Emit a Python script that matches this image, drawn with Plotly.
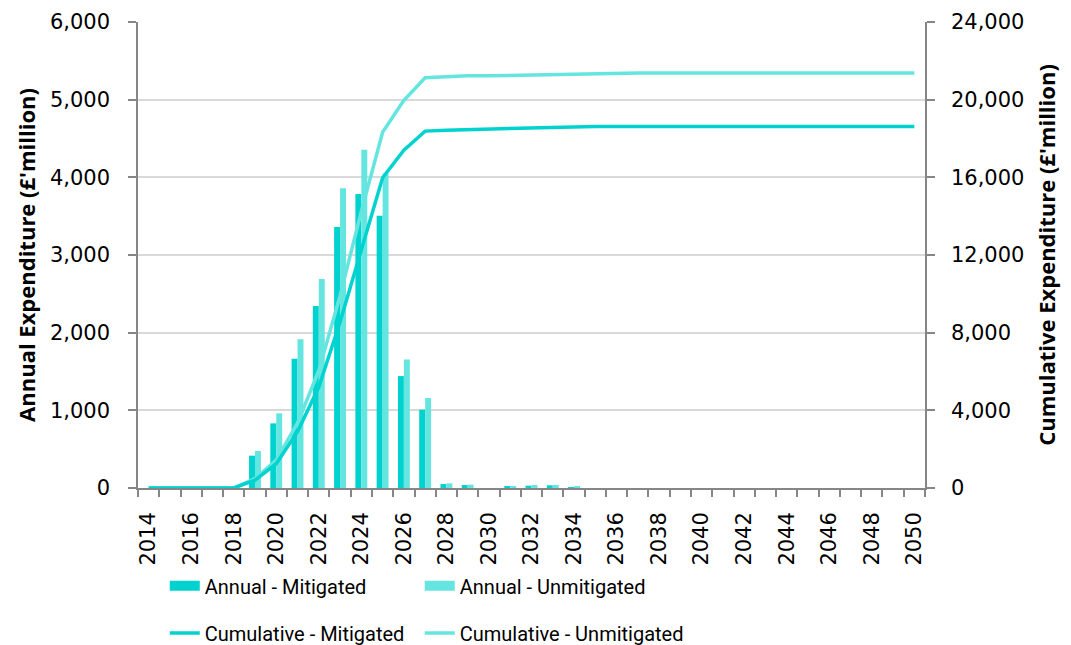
import plotly.graph_objects as go

# Annual and cumulative expenditure, £ million
years = list(range(2014, 2051))

annual_mitigated = [0, 0, 0, 0, 0, 416, 832, 1664, 2342, 3359, 3784, 3505, 1441, 1008,
                    51, 39, 0, 15, 30, 35, 12] + [0] * 16
annual_unmitigated = [0, 0, 0, 0, 0, 476, 961, 1914, 2690, 3861, 4354, 4050, 1656, 1158,
                      60, 43, 0, 20, 39, 39, 20] + [0] * 16

cumulative_mitigated = [0, 0, 0, 0, 0, 400, 1250, 2900, 5200, 8550, 12300, 15980, 17400, 18380,
                        18430, 18460, 18460, 18480, 18520, 18560, 18600] + [18620] * 16
cumulative_unmitigated = [0, 0, 0, 0, 0, 480, 1440, 3350, 6040, 9900, 14250, 18320, 19970, 21130,
                          21190, 21230, 21230, 21250, 21290, 21330, 21350] + [21370] * 16

x_tick_labels = [str(y) for y in range(2014, 2051, 2)]

DARK = "#00D3CF"
LIGHT = "#64E5E0"
AXIS_GREY = "#868686"
GRID_GREY = "#D9D9D9"

fig = go.Figure()

# Annual bars (left axis)
fig.add_trace(go.Bar(x=years, y=annual_mitigated, marker_color=DARK, marker_line_width=0,
                     name="Annual - Mitigated", showlegend=False))
fig.add_trace(go.Bar(x=years, y=annual_unmitigated, marker_color=LIGHT, marker_line_width=0,
                     name="Annual - Unmitigated", showlegend=False))

# Cumulative lines (right axis)
fig.add_trace(go.Scatter(x=years, y=cumulative_unmitigated, yaxis="y2", mode="lines",
                         line=dict(color=LIGHT, width=3.5), name="Cumulative - Unmitigated",
                         showlegend=False))
fig.add_trace(go.Scatter(x=years, y=cumulative_mitigated, yaxis="y2", mode="lines",
                         line=dict(color=DARK, width=3.5), name="Cumulative - Mitigated",
                         showlegend=False))

# Legend entries in a 2x2 grid: wide swatches for the bars, thin lines for the cumulative series
legend_items = [
    ("Annual - Mitigated", DARK, 10, "legend", 0.034, -0.210),
    ("Annual - Unmitigated", LIGHT, 10, "legend2", 0.358, -0.210),
    ("Cumulative - Mitigated", DARK, 3.5, "legend3", 0.034, -0.311),
    ("Cumulative - Unmitigated", LIGHT, 3.5, "legend4", 0.358, -0.311),
]

legend_font = dict(family="Roboto", size=20, color="#000000")
legend_layouts = {}
for label, color, width, leg, lx, ly in legend_items:
    fig.add_trace(go.Scatter(x=[None], y=[None], mode="lines", name=label,
                             line=dict(color=color, width=width), legend=leg,
                             hoverinfo="skip"))
    legend_layouts[leg] = dict(orientation="h", x=lx, xanchor="left", y=ly, yanchor="middle",
                               font=legend_font, bgcolor="rgba(0,0,0,0)", itemclick=False)

tick_font = dict(family="DejaVu Sans", size=21, color="#000000")
title_font = dict(family="Open Sans", size=22, color="#000000", weight="bold")

fig.update_layout(
    width=1071, height=645,
    margin=dict(l=138, r=146, t=22, b=157, autoexpand=False),
    paper_bgcolor="white", plot_bgcolor="white",
    barmode="group", bargap=0.44, bargroupgap=0,
    xaxis=dict(
        range=[2013.5, 2050.5], tickmode="array", tickvals=list(range(2014, 2051, 2)),
        ticktext=x_tick_labels, tickangle=-90, ticks="", showgrid=False,
        showline=True, linecolor=AXIS_GREY, linewidth=1.5, tickfont=tick_font,
        ticklabelstandoff=14,
        minor=dict(tickmode="linear", tick0=2013.5, dtick=1, ticks="outside",
                   ticklen=7, tickcolor=AXIS_GREY, tickwidth=1.5, showgrid=False),
        zeroline=False,
    ),
    yaxis=dict(
        range=[0, 6000], dtick=1000, tickformat=",d", showgrid=True, gridcolor=GRID_GREY,
        gridwidth=1.5, showline=True, linecolor=AXIS_GREY, linewidth=1.5,
        ticks="outside", ticklen=8, tickcolor=AXIS_GREY, tickwidth=1.5,
        tickfont=tick_font, ticklabelstandoff=14, zeroline=False,
        title=dict(text="Annual Expenditure (£'million)", font=title_font, standoff=8),
    ),
    yaxis2=dict(
        range=[0, 24000], dtick=4000, tickformat=",d", overlaying="y", side="right",
        showgrid=False, showline=True, linecolor=AXIS_GREY, linewidth=1.5,
        ticks="outside", ticklen=8, tickcolor=AXIS_GREY, tickwidth=1.5,
        tickfont=tick_font, ticklabelstandoff=12, zeroline=False,
        title=dict(text="Cumulative Expenditure (£'million)", font=title_font, standoff=16),
    ),
    **legend_layouts,
)

fig.write_html("out.html")
